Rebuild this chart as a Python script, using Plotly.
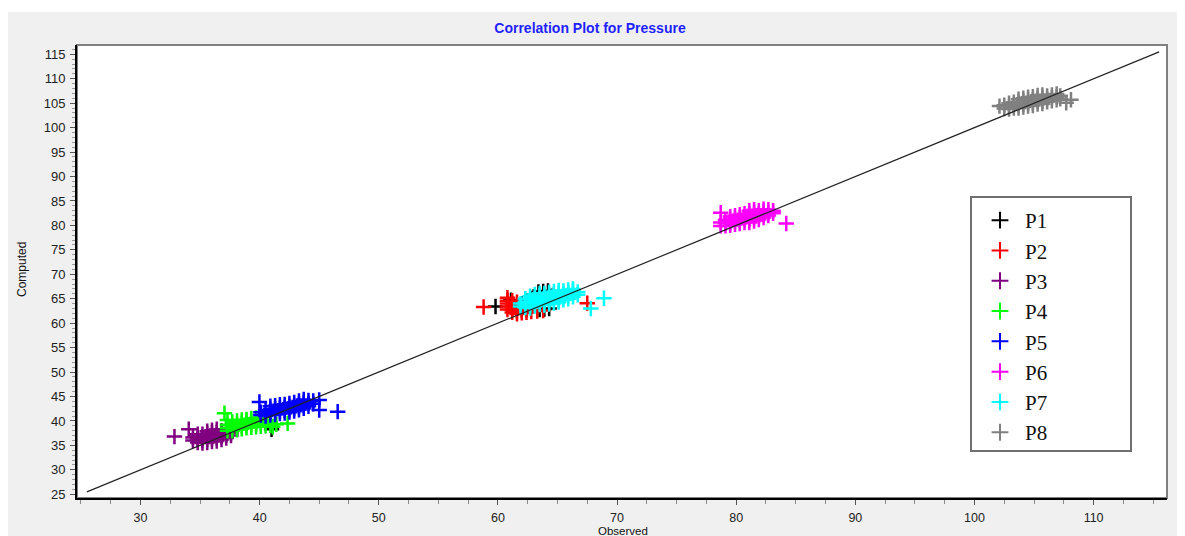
import plotly.graph_objects as go

# ---------------- data ----------------
series_names = ["P1", "P2", "P3", "P4", "P5", "P6", "P7", "P8"]
series_colors = ["#000000", "#FF0000", "#800080", "#00FF00",
                 "#0000FF", "#FF00FF", "#00FFFF", "#808080"]

# (observed, computed) pairs per series
p1_pts = [(59.8, 63.4), (61.1, 64.7), (62.0, 64.0), (62.5, 64.6), (63.0, 65.4),
          (63.4, 66.4), (63.8, 66.5), (64.2, 66.6), (64.5, 65.5), (63.5, 62.8),
          (63.9, 62.9), (64.3, 63.0), (63.0, 63.6), (41.0, 38.3)]

p2_pts = [(60.8, 62.8), (60.8, 63.4), (60.8, 64.0), (60.8, 64.6), (60.8, 65.2),
          (61.2, 62.2), (61.2, 62.8), (61.2, 63.4), (61.2, 64.0), (61.2, 64.6),
          (61.6, 61.9), (61.6, 62.5), (61.6, 63.1), (61.6, 63.7), (61.6, 64.3),
          (62.0, 62.1), (62.0, 62.7), (62.0, 63.3),
          (62.4, 62.2), (62.4, 62.8),
          (62.8, 62.4), (63.3, 62.5), (63.8, 62.6),
          (58.8, 63.3), (67.5, 64.1)]

p3_pts = [(34.4, 36.0), (34.4, 36.6),
          (34.8, 35.6), (34.8, 36.2), (34.8, 36.8), (34.8, 37.3),
          (35.2, 35.5), (35.2, 36.1), (35.2, 36.7), (35.2, 37.3),
          (35.6, 35.6), (35.6, 36.2), (35.6, 36.8), (35.6, 37.4), (35.6, 37.9),
          (36.0, 35.8), (36.0, 36.4), (36.0, 37.0), (36.0, 37.6), (36.0, 38.1),
          (36.4, 35.9), (36.4, 36.5), (36.4, 37.1), (36.4, 37.7), (36.4, 38.3),
          (36.8, 36.2), (36.8, 36.8), (36.8, 37.4), (36.8, 38.0),
          (37.2, 36.5), (37.2, 37.1), (37.2, 37.7), (37.2, 38.3),
          (37.6, 37.0), (37.6, 37.6), (37.6, 38.2),
          (32.85, 36.8), (34.05, 38.3)]

p4_pts = [(37.3, 38.0), (37.3, 38.6), (37.3, 39.2),
          (37.7, 38.0), (37.7, 38.6), (37.7, 39.2), (37.7, 39.8),
          (38.1, 38.2), (38.1, 38.8), (38.1, 39.4), (38.1, 40.0),
          (38.5, 38.4), (38.5, 39.0), (38.5, 39.6), (38.5, 40.2),
          (38.9, 38.6), (38.9, 39.2), (38.9, 39.8), (38.9, 40.3),
          (39.3, 38.7), (39.3, 39.3), (39.3, 39.9), (39.3, 40.5),
          (39.7, 38.8), (39.7, 39.4), (39.7, 40.0), (39.7, 40.6),
          (40.1, 38.9), (40.1, 39.5), (40.1, 40.1), (40.1, 40.7),
          (40.5, 39.0), (40.5, 39.6), (40.5, 40.2),
          (40.9, 39.1), (40.9, 39.7),
          (41.4, 39.3),
          (37.05, 41.6), (37.3, 40.2), (42.35, 39.5), (41.1, 38.8)]

p5_pts = [(40.1, 41.2), (40.1, 41.8),
          (40.5, 41.0), (40.5, 41.6), (40.5, 42.2),
          (40.9, 41.2), (40.9, 41.8), (40.9, 42.4), (40.9, 43.0),
          (41.3, 41.3), (41.3, 41.9), (41.3, 42.5), (41.3, 43.1),
          (41.7, 41.5), (41.7, 42.1), (41.7, 42.7), (41.7, 43.3),
          (42.1, 41.6), (42.1, 42.2), (42.1, 42.8), (42.1, 43.4),
          (42.5, 41.8), (42.5, 42.4), (42.5, 43.0), (42.5, 43.6),
          (42.9, 42.0), (42.9, 42.6), (42.9, 43.2), (42.9, 43.8),
          (43.3, 42.3), (43.3, 42.9), (43.3, 43.5), (43.3, 44.1),
          (43.7, 42.6), (43.7, 43.2), (43.7, 43.8), (43.7, 44.4),
          (44.1, 43.0), (44.1, 43.6), (44.1, 44.2),
          (44.5, 43.5), (44.5, 44.1),
          (39.98, 43.9), (45.0, 42.25), (46.55, 41.9), (45.0, 44.3)]

p6_pts = [(78.7, 79.9), (78.7, 80.6),
          (79.1, 79.9), (79.1, 80.5), (79.1, 81.1),
          (79.5, 80.0), (79.5, 80.6), (79.5, 81.2), (79.5, 81.8),
          (79.9, 80.2), (79.9, 80.8), (79.9, 81.4), (79.9, 82.0),
          (80.3, 80.4), (80.3, 81.0), (80.3, 81.6), (80.3, 82.2),
          (80.7, 80.6), (80.7, 81.2), (80.7, 81.8), (80.7, 82.4),
          (81.1, 80.6), (81.1, 81.2), (81.1, 81.8), (81.1, 82.4), (81.1, 83.0),
          (81.5, 80.9), (81.5, 81.5), (81.5, 82.1), (81.5, 82.7), (81.5, 83.2),
          (81.9, 81.2), (81.9, 81.8), (81.9, 82.4), (81.9, 83.0),
          (82.3, 81.6), (82.3, 82.2), (82.3, 82.8), (82.3, 83.3),
          (82.7, 82.0), (82.7, 82.6), (82.7, 83.2),
          (83.1, 82.5), (83.1, 83.0),
          (78.7, 82.6), (84.2, 80.4)]

p7_pts = [(61.9, 63.4), (61.9, 64.0),
          (62.3, 63.2), (62.3, 63.8), (62.3, 64.4), (62.3, 65.0),
          (62.7, 63.1), (62.7, 63.7), (62.7, 64.3), (62.7, 64.9), (62.7, 65.5),
          (63.1, 63.5), (63.1, 64.1), (63.1, 64.7), (63.1, 65.3), (63.1, 65.9),
          (63.5, 63.8), (63.5, 64.4), (63.5, 65.0), (63.5, 65.6), (63.5, 66.1),
          (63.9, 63.7), (63.9, 64.3), (63.9, 64.9), (63.9, 65.5), (63.9, 66.1),
          (64.3, 63.9), (64.3, 64.5), (64.3, 65.1), (64.3, 65.7), (64.3, 66.3),
          (64.7, 64.1), (64.7, 64.7), (64.7, 65.3), (64.7, 65.9), (64.7, 66.5),
          (65.1, 64.3), (65.1, 64.9), (65.1, 65.5), (65.1, 66.1), (65.1, 66.7),
          (65.5, 64.8), (65.5, 65.4), (65.5, 66.0), (65.5, 66.6),
          (65.9, 65.0), (65.9, 65.6), (65.9, 66.2), (65.9, 66.8),
          (66.3, 65.4), (66.3, 66.0), (66.3, 66.6), (66.3, 67.0),
          (66.7, 65.8), (66.7, 66.4),
          (67.8, 63.0), (68.9, 65.1)]

p8_pts = [(102.5, 103.9), (102.5, 104.6),
          (102.9, 103.8), (102.9, 104.4), (102.9, 105.0),
          (103.3, 104.0), (103.3, 104.6), (103.3, 105.2),
          (103.7, 104.0), (103.7, 104.6), (103.7, 105.2), (103.7, 105.8),
          (104.1, 104.2), (104.1, 104.8), (104.1, 105.4), (104.1, 106.0),
          (104.5, 104.4), (104.5, 105.0), (104.5, 105.6), (104.5, 106.2),
          (104.9, 104.5), (104.9, 105.1), (104.9, 105.7), (104.9, 106.3),
          (105.3, 104.8), (105.3, 105.4), (105.3, 106.0), (105.3, 106.6),
          (105.7, 104.9), (105.7, 105.5), (105.7, 106.1), (105.7, 106.7),
          (106.1, 105.3), (106.1, 105.9), (106.1, 106.5),
          (106.5, 105.5), (106.5, 106.1), (106.5, 106.7),
          (106.9, 105.7), (106.9, 106.3), (106.9, 106.9),
          (107.2, 105.9), (107.2, 106.5),
          (102.1, 104.4), (107.7, 105.1), (108.1, 105.7)]

all_pts = [p1_pts, p2_pts, p3_pts, p4_pts, p5_pts, p6_pts, p7_pts, p8_pts]

# identity reference line end points
line_x = [25.5, 115.5]
line_y = [25.5, 115.5]

x_tickvals = [30, 40, 50, 60, 70, 80, 90, 100, 110]
y_tickvals = [25, 30, 35, 40, 45, 50, 55, 60, 65, 70, 75, 80, 85, 90, 95,
              100, 105, 110, 115]

# ---------------- figure ----------------
OFF = 8                      # page body margin
W, H = 1177, 528
L, R, T, B = 69, 18, 37, 38
pw, ph = W - L - R, H - T - B


def px_x(page_x):
    return (page_x - OFF - L) / pw


def px_y(page_y):
    return (H - B - (page_y - OFF)) / ph


fig = go.Figure()

for name, color, pts in zip(series_names, series_colors, all_pts):
    fig.add_trace(go.Scatter(
        x=[p[0] for p in pts], y=[p[1] for p in pts], mode="markers", name=name,
        marker=dict(symbol="cross-thin", size=11, color=color,
                    line=dict(color=color, width=2.5)),
    ))

fig.add_trace(go.Scatter(x=line_x, y=line_y, mode="lines", showlegend=False,
                         line=dict(color="#222222", width=1.2), hoverinfo="skip"))

shapes = [
    # grey panel
    dict(type="rect", xref="paper", yref="paper", layer="below",
         x0=px_x(7), x1=px_x(1185), y0=px_y(536), y1=px_y(12),
         fillcolor="#F0F0F0", line=dict(width=0)),
    # white plot area with grey frame
    dict(type="rect", xref="paper", yref="paper", layer="below",
         x0=0, x1=1, y0=0, y1=1,
         fillcolor="white", line=dict(color="#808080", width=2)),
    # legend box
    dict(type="rect", xref="paper", yref="paper", layer="below",
         x0=px_x(971), x1=px_x(1131), y0=px_y(451), y1=px_y(197),
         fillcolor="white", line=dict(color="#707070", width=2)),
]

fig.update_layout(
    width=W, height=H,
    margin=dict(l=L, r=R, t=T, b=B, pad=0),
    paper_bgcolor="white", plot_bgcolor="white",
    shapes=shapes,
    title=dict(text="Correlation Plot for Pressure", xref="container",
               x=(590 - OFF) / W, xanchor="center", yref="container",
               y=1 - (28 - OFF) / H, yanchor="middle",
               font=dict(family="Liberation Sans, Arial", size=14, color="#1F1FFF",
                         weight="bold")),
    font=dict(family="Liberation Sans, Arial", size=13, color="#222222"),
    showlegend=True,
    legend=dict(x=px_x(975), xanchor="left", y=px_y(200), yanchor="top",
                bgcolor="rgba(0,0,0,0)", borderwidth=0, itemwidth=40,
                font=dict(family="Liberation Serif, Times New Roman", size=21,
                          color="#111111"),
                itemsizing="constant", tracegroupgap=0),
    xaxis=dict(range=[24.67, 116.16], tickmode="array", tickvals=x_tickvals,
               showgrid=False, zeroline=False, showline=True, linecolor="black",
               linewidth=2, ticks="outside", ticklen=5, tickwidth=1,
               tickcolor="#555555", ticklabelstandoff=2,
               minor=dict(dtick=2.5, tick0=0, ticks="outside", ticklen=4,
                          tickcolor="#888888", showgrid=False),
               tickfont=dict(size=12.5, color="#222222")),
    yaxis=dict(range=[24.24, 116.9], tickmode="array", tickvals=y_tickvals,
               showgrid=False, zeroline=False, showline=True, linecolor="black",
               linewidth=2, ticks="outside", ticklen=5, tickwidth=1,
               tickcolor="#555555", ticklabelstandoff=2,
               minor=dict(dtick=1, tick0=0, ticks="outside", ticklen=3,
                          tickcolor="#999999", showgrid=False),
               tickfont=dict(size=13, color="#222222")),
    annotations=[
        dict(text="Computed", xref="paper", yref="paper", x=px_x(22), y=px_y(270),
             textangle=-90, showarrow=False, xanchor="center", yanchor="middle",
             font=dict(size=12, color="#111111")),
        dict(text="Observed", xref="paper", yref="paper", x=(623 - OFF - L) / pw,
             y=px_y(530.5), showarrow=False, xanchor="center", yanchor="middle",
             font=dict(size=11.5, color="#111111")),
    ],
)

fig.write_html("out.html")
